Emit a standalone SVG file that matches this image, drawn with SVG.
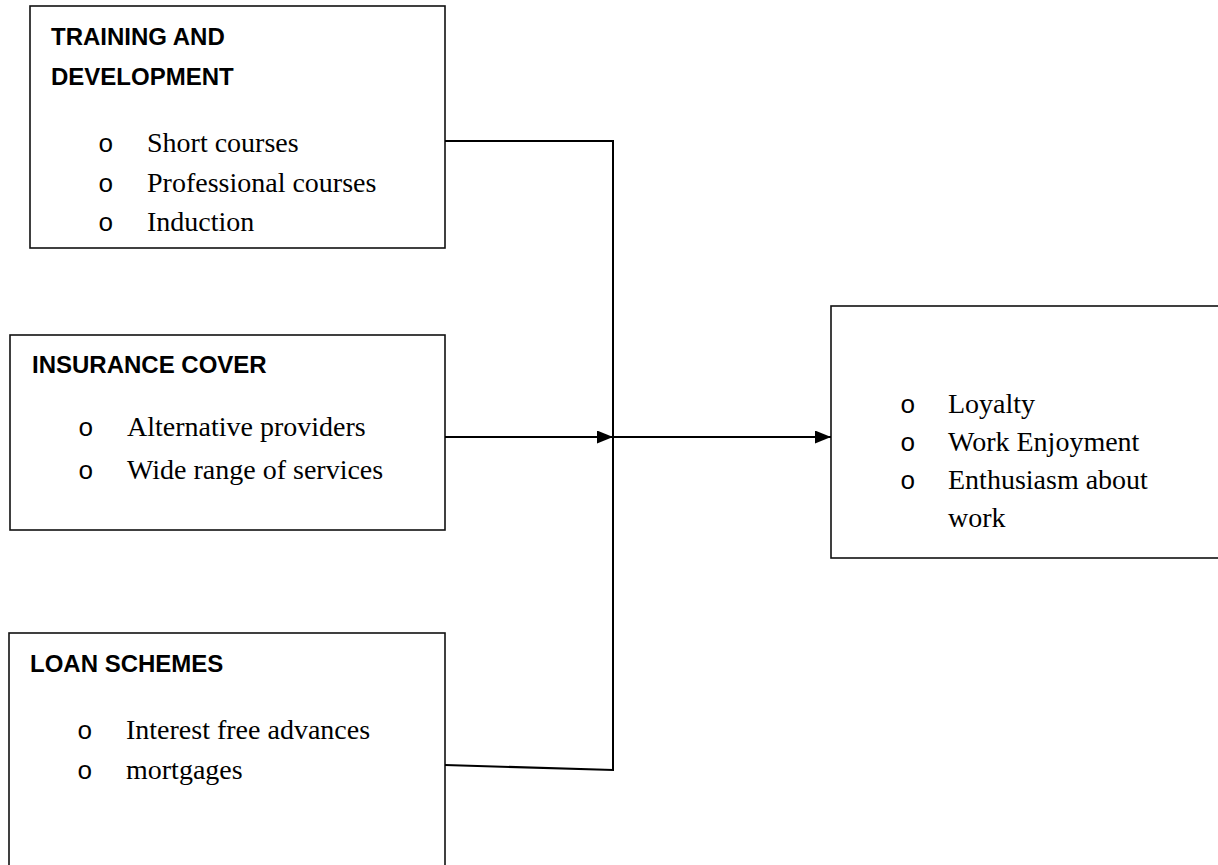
<svg xmlns="http://www.w3.org/2000/svg" width="1218" height="865" viewBox="0 0 1218 865">
<style>
.box{fill:#fff;stroke:#111;stroke-width:1.6}
.title{font-family:"Liberation Sans",Arial,sans-serif;font-weight:bold;font-size:24px;fill:#000}
.item{font-family:"Liberation Serif","Times New Roman",serif;font-size:28px;fill:#000}
.bul{font-family:"Liberation Mono","Courier New",monospace;font-size:26px;fill:#000}
.conn{fill:none;stroke:#000;stroke-width:2}
</style>
<defs>
<marker id="arr" markerUnits="userSpaceOnUse" markerWidth="16" markerHeight="14" refX="16" refY="6.5" orient="auto">
<path d="M0,0 L16,6.5 L0,13 Z" fill="#000"/>
</marker>
</defs>
<rect width="1218" height="865" fill="#fff"/>
<g id="training">
<rect class="box" x="30" y="6" width="415" height="242"/>
<text class="title" x="51" y="45">TRAINING AND</text>
<text class="title" x="51" y="85">DEVELOPMENT</text>
<text class="bul" x="98" y="152">o</text><text class="item" x="147" y="152">Short courses</text>
<text class="bul" x="98" y="192">o</text><text class="item" x="147" y="192">Professional courses</text>
<text class="bul" x="98" y="231">o</text><text class="item" x="147" y="231">Induction</text>
</g>
<g id="insurance">
<rect class="box" x="10" y="335" width="435" height="195"/>
<text class="title" x="32" y="373">INSURANCE COVER</text>
<text class="bul" x="78" y="436">o</text><text class="item" x="127" y="436">Alternative providers</text>
<text class="bul" x="78" y="479">o</text><text class="item" x="127" y="479">Wide range of services</text>
</g>
<g id="loan">
<rect class="box" x="9" y="633" width="436" height="250"/>
<text class="title" x="30" y="672">LOAN SCHEMES</text>
<text class="bul" x="77" y="739">o</text><text class="item" x="126" y="739">Interest free advances</text>
<text class="bul" x="77" y="779">o</text><text class="item" x="126" y="779">mortgages</text>
</g>
<g id="outcome">
<rect class="box" x="831" y="306" width="400" height="252"/>
<text class="bul" x="900" y="413">o</text><text class="item" x="948" y="413">Loyalty</text>
<text class="bul" x="900" y="451">o</text><text class="item" x="948" y="451">Work Enjoyment</text>
<text class="bul" x="900" y="489">o</text><text class="item" x="948" y="489">Enthusiasm about</text>
<text class="item" x="948" y="527">work</text>
</g>
<g id="connectors">
<polyline class="conn" points="445,141 613,141 613,770 445,765"/>
<line class="conn" x1="445" y1="437" x2="613" y2="437" marker-end="url(#arr)"/>
<line class="conn" x1="613" y1="437" x2="831" y2="437" marker-end="url(#arr)"/>
</g>
</svg>
